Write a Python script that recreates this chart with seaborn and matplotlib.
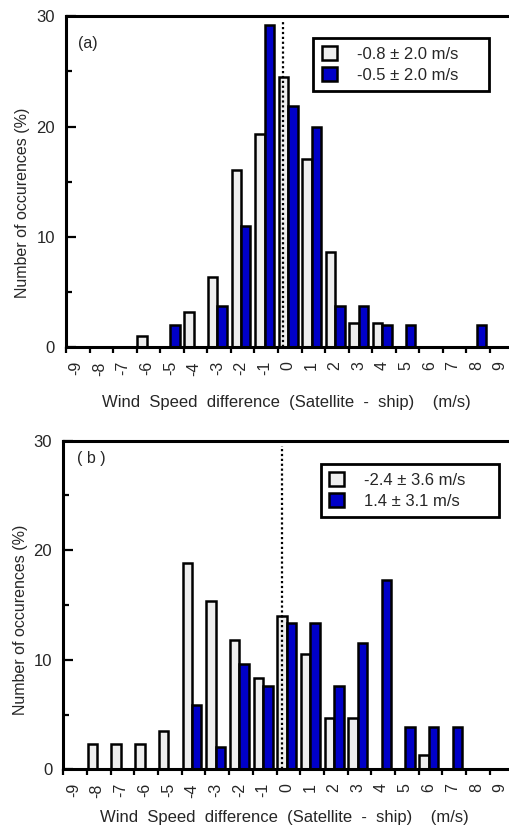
import matplotlib
matplotlib.use("Agg")
import matplotlib.pyplot as plt
import seaborn as sns
import pandas as pd
import numpy as np

# wind speed difference bins (m/s)
bins = list(range(-9, 10))

# panel (a) percentages
a_labels = ["-0.8 ± 2.0 m/s", "-0.5 ± 2.0 m/s"]
a_grey = [0, 0, 0, 1.0, 0, 3.2, 6.4, 16.1, 19.3, 24.5, 17.1, 8.6, 2.2, 2.2, 0, 0, 0, 0, 0]
a_blue = [0, 0, 0, 0, 2.0, 0, 3.7, 11.0, 29.2, 21.9, 20.0, 3.7, 3.7, 2.0, 2.0, 0, 0, 2.0, 0]

# panel (b) percentages
b_labels = ["-2.4 ± 3.6 m/s", "1.4 ± 3.1 m/s"]
b_grey = [0, 2.3, 2.3, 2.3, 3.5, 18.8, 15.4, 11.8, 8.3, 14.0, 10.5, 4.7, 4.7, 0, 0, 1.3, 0, 0, 0]
b_blue = [0, 0, 0, 0, 0, 5.9, 2.0, 9.6, 7.6, 13.4, 13.4, 7.6, 11.5, 17.3, 3.9, 3.9, 3.9, 0, 0]

panel_names = ["(a)", "( b )"]

xlabel = "Wind  Speed  difference  (Satellite  -  ship)    (m/s)"
ylabel = "Number of occurences (%)"

grey = "#eeeeee"
blue = "#0000c8"

sns.set_theme(style="white")
plt.rcParams["font.family"] = ["Liberation Sans", "DejaVu Sans"]

fig = plt.figure(figsize=(5.1, 8.25), dpi=100)

def make_df(grey_vals, blue_vals, labels):
    rows = []
    for b, g, bl in zip(bins, grey_vals, blue_vals):
        rows.append({"diff": b, "pct": g, "series": labels[0]})
        rows.append({"diff": b, "pct": bl, "series": labels[1]})
    return pd.DataFrame(rows)

# axes placement in figure fractions (left, bottom, width, height)
boxes = [[0.1294, 0.579, 0.872, 0.4015], [0.1242, 0.0675, 0.877, 0.3983]]
legend_pos = [(0.556, 0.934, 0.395), (0.575, 0.929, 0.398)]
name_pos = [(0.026, 0.918), (0.030, 0.947)]
ylab_y = [0.437, 0.456]
xlab_y = [-0.144, -0.124]

for k, (gv, bv, labs) in enumerate([(a_grey, a_blue, a_labels), (b_grey, b_blue, b_labels)]):
    ax = fig.add_axes(boxes[k])
    df = make_df(gv, bv, labs)
    sns.barplot(data=df, x="diff", y="pct", hue="series", hue_order=labs,
                palette=[grey, blue], native_scale=True, width=0.8,
                edgecolor="black", linewidth=1.8, saturation=1, ax=ax)

    ax.set_xlim(-9.43, 9.45)
    ax.set_ylim(0, 30)

    # dotted zero line through the centre of the grey bar at 0
    ax.axvline(0 - 0.2, ymin=0, ymax=0.985, color="black", ls=(0, (1, 1.2)), lw=1.6, zorder=5)

    ax.set_xticks(bins)
    ax.set_xticklabels([str(b) for b in bins], rotation=90, fontsize=11.5)
    ax.set_xticks([b - 0.43 for b in bins], minor=True)
    ax.tick_params(axis="x", which="major", length=0, pad=10)
    ax.tick_params(axis="x", which="minor", direction="out", length=4, width=1.6,
                   color="black", bottom=True)

    ax.set_yticks([0, 10, 20, 30])
    ax.set_yticks([5, 15, 25], minor=True)
    ax.tick_params(axis="y", which="major", direction="in", length=7, width=1.6,
                   color="black", left=True, labelsize=12, pad=8)
    ax.tick_params(axis="y", which="minor", direction="in", length=4.5, width=1.6,
                   color="black", left=True)

    for side in ["left", "top", "bottom"]:
        ax.spines[side].set_visible(True)
        ax.spines[side].set_color("black")
        ax.spines[side].set_linewidth(2.2)
    ax.spines["right"].set_visible(False)

    ax.set_xlabel(xlabel, fontsize=12)
    ax.set_ylabel(ylabel, fontsize=11.5)
    ax.xaxis.set_label_coords(0.495, xlab_y[k])
    ax.yaxis.set_label_coords(-0.08, ylab_y[k])
    ax.xaxis.label.set_va("top")

    ax.text(name_pos[k][0], name_pos[k][1], panel_names[k], transform=ax.transAxes,
            fontsize=11.5, va="center", ha="left")

    handles, hlabels = ax.get_legend_handles_labels()
    for h in handles:
        h.set_edgecolor("black")
        h.set_linewidth(1.8)
    lx, ly, lw = legend_pos[k]
    leg = ax.legend(handles, hlabels, loc="upper left", bbox_to_anchor=(lx, ly - 0.17, lw, 0.17),
                    mode="expand", borderaxespad=0, fontsize=12, handlelength=0.9,
                    handleheight=0.9, handletextpad=1.2, labelspacing=0.3,
                    borderpad=0.5, fancybox=False, framealpha=1, edgecolor="black")
    leg.get_frame().set_linewidth(2.0)

fig.savefig("out.png", dpi=100)
